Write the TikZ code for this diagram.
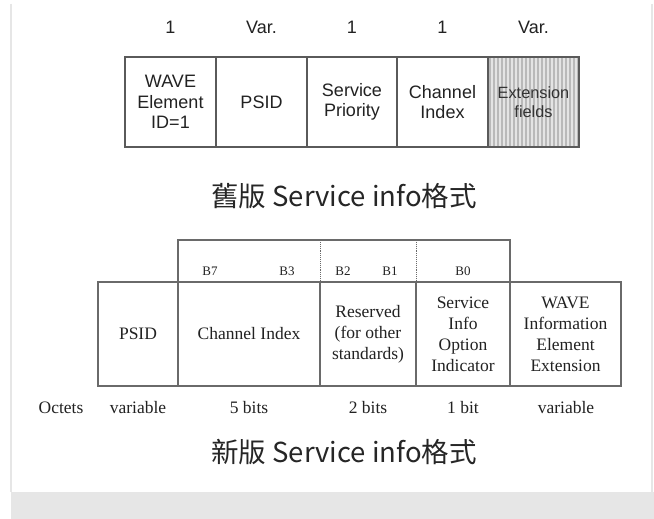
\documentclass[tikz,border=0pt]{standalone}
\usepackage{fontspec}
\setmainfont{Liberation Serif}
\newfontfamily\arialfont{Liberation Sans}
\newfontfamily\cjkfont{Noto Sans CJK TC}
\definecolor{linegray}{HTML}{5A5A5A}
\definecolor{newline}{HTML}{6A6A6A}
\definecolor{txt}{HTML}{222222}
\definecolor{panelgray}{HTML}{E6E6E6}
\definecolor{stripelight}{HTML}{E4E4E4}
\definecolor{stripedark}{HTML}{B9B9B9}
\tikzset{
  oldcell/.style={draw=linegray, line width=1.1pt, inner sep=0pt, outer sep=0pt,
    minimum height=90pt, align=center, text=txt,
    font=\arialfont\fontsize{18}{20.5}\selectfont},
  oldsize/.style={inner sep=0pt, text=txt, font=\arialfont\fontsize{18}{20.5}\selectfont},
  newcell/.style={draw=newline, line width=1.1pt, inner sep=0pt, outer sep=0pt,
    minimum height=104pt, align=center, text=txt,
    font=\fontsize{17.5}{21}\selectfont},
  bitlabel/.style={inner sep=0pt, text=txt, font=\fontsize{13}{15}\selectfont},
  octets/.style={inner sep=0pt, text=txt, font=\fontsize{17.5}{20}\selectfont},
  caption/.style={inner sep=0pt, text=black!85, font=\cjkfont\fontsize{27.5}{30}\selectfont},
}
\begin{document}
\begin{tikzpicture}[x=1pt, y=-1pt]
\useasboundingbox (0,0) rectangle (654,519);
% page panel
\fill[white] (0,0) rectangle (654,519);
\fill[panelgray] (11,492) rectangle (654,519);
\draw[panelgray, line width=1.2pt] (11,4) -- (11,492);
\draw[panelgray, line width=1.2pt] (652,4) -- (652,492);

% ---------- old Service info format ----------
\node[oldsize] (s1) at (170.5,27) {1};
\node[oldsize] (s2) at (261.5,27) {Var.};
\node[oldsize] (s3) at (352,27) {1};
\node[oldsize] (s4) at (442.5,27) {1};
\node[oldsize] (s5) at (533.5,27) {Var.};

% striped background of the extension cell
\fill[stripelight] (488,57) rectangle (579,147);
\foreach \sx in {490,494,...,578}
  \draw[stripedark, line width=1.4pt] (\sx,57) -- (\sx,147);

\node[oldcell, minimum width=91pt] (wave) at (170.5,102) {WAVE\\Element\\ID=1};
\node[oldcell, minimum width=91pt] (psid) at (261.5,102) {PSID};
\node[oldcell, minimum width=90pt] (prio) at (352,102) {Service\\Priority};
\node[oldcell, minimum width=91pt] (chan) at (442.5,102) {Channel\\Index};
\node[oldcell, minimum width=91pt, text=black!80,
  font=\arialfont\fontsize{16.3}{19}\selectfont] (ext) at (533.5,102) {Extension\\fields};

\node[caption] (oldtitle) at (344,196) {舊版 Service info格式};

% ---------- new Service info format ----------
\node[draw=newline, line width=1.1pt, inner sep=0pt, outer sep=0pt,
  minimum width=332pt, minimum height=42pt] (bits) at (344,261) {};
\draw[newline, line width=0.9pt, densely dotted] (320,240) -- (320,282);
\draw[newline, line width=0.9pt, densely dotted] (416,240) -- (416,282);
\node[bitlabel] (b7) at (210,271) {B7};
\node[bitlabel] (b3) at (287,271) {B3};
\node[bitlabel] (b2) at (343,271) {B2};
\node[bitlabel] (b1) at (390,271) {B1};
\node[bitlabel] (b0) at (463,271) {B0};

\node[newcell, minimum width=80pt] (npsid) at (138,334) {PSID};
\node[newcell, minimum width=142pt] (nchan) at (249,334) {Channel Index};
\node[newcell, minimum width=96pt] (nres) at (368,334) {Reserved\\(for other\\standards)};
\node[newcell, minimum width=94pt] (nopt) at (463,334) {Service\\Info\\Option\\Indicator};
\node[newcell, minimum width=111pt] (next) at (565.5,334) {WAVE\\Information\\Element\\Extension};

\node[octets] (oct) at (61,408) {Octets};
\node[octets] (o1) at (138,408) {variable};
\node[octets] (o2) at (249,408) {5 bits};
\node[octets] (o3) at (368,408) {2 bits};
\node[octets] (o4) at (463,408) {1 bit};
\node[octets] (o5) at (566,408) {variable};

\node[caption] (newtitle) at (344,452) {新版 Service info格式};
\end{tikzpicture}
\end{document}
